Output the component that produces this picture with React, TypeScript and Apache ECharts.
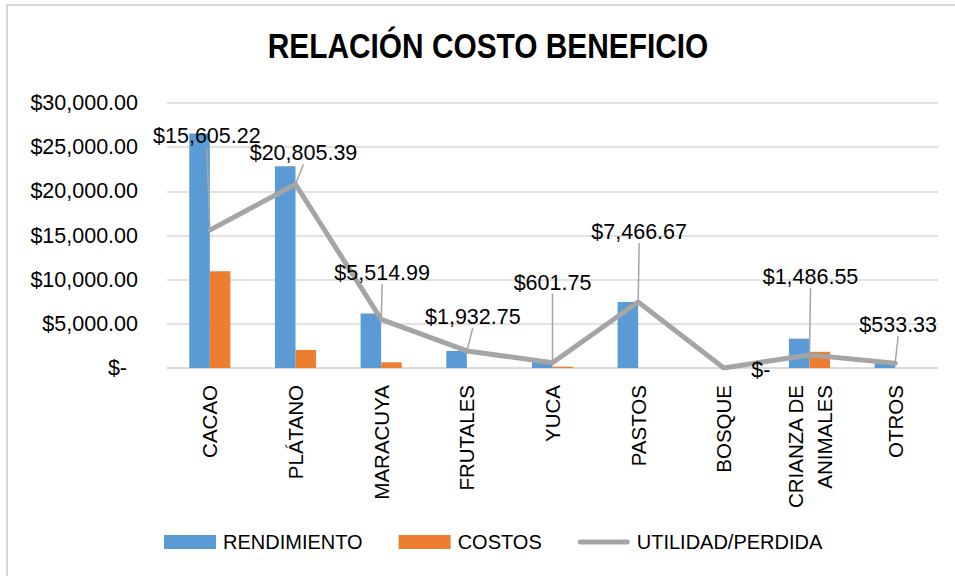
import React, { useEffect, useRef } from "react";
import * as echarts from "echarts";

const categories = ["CACAO", "PLÁTANO", "MARACUYA", "FRUTALES", "YUCA", "PASTOS", "BOSQUE", "CRIANZA DE\nANIMALES", "OTROS"];
const rendimiento = [26550, 22850, 6160, 1932.75, 750, 7466.67, 0, 3320, 533.33];
const costos = [10944.78, 2044.61, 645.01, 0, 148.25, 0, 0, 1833.45, 0];
const utilidad = [15605.22, 20805.39, 5514.99, 1932.75, 601.75, 7466.67, 0, 1486.55, 533.33];
const seriesNames = ["RENDIMIENTO", "COSTOS", "UTILIDAD/PERDIDA"];
const titleText = "RELACIÓN COSTO BENEFICIO";
const yMin = 0;
const yMax = 30000;
const yStep = 5000;

// label placement (offset of label centre from its point, px) – styling only
const labelOffsets = [[-3, -94], [8, -31], [1, -46], [6, -34], [0, -80], [1, -70], [37, 2], [1, -78], [3, -38]];
const showLeader = [true, true, true, true, true, true, false, true, true];

const money = (v: number) =>
  v === 0 ? "$-" : "$" + v.toLocaleString("en-US", { minimumFractionDigits: 2, maximumFractionDigits: 2 });

const FONT = "'Liberation Sans', Arial, sans-serif";
const LINE_ICON = "path://M0,0M52,14M2.5,4.5L49.5,4.5A2.5,2.5,0,0,1,49.5,9.5L2.5,9.5A2.5,2.5,0,0,1,2.5,4.5Z";

export default function App() {
  const ref = useRef<HTMLDivElement>(null);
  useEffect(() => {
    if (!ref.current) return;
    const chart = echarts.init(ref.current, null, { renderer: "svg" });
    chart.setOption({
      animation: false,
      backgroundColor: "#ffffff",
      graphic: [
        {
          type: "rect",
          shape: { x: 7, y: 5, width: 980, height: 600 },
          style: { fill: "none", stroke: "#D9D9D9", lineWidth: 2 },
          silent: true,
        },
        {
          type: "text",
          x: 488,
          y: 46,
          scaleX: 0.853,
          style: {
            text: titleText,
            fontFamily: FONT,
            fontWeight: "bold",
            fontSize: 35,
            fill: "#000",
            align: "center",
            verticalAlign: "middle",
          },
          silent: true,
        },
      ],
      legend: {
        left: 164,
        top: 532,
        padding: 0,
        itemWidth: 52,
        itemHeight: 14,
        itemGap: 36,
        textStyle: { fontFamily: FONT, fontSize: 20, color: "#000", padding: [0, 0, 0, 2] },
        data: [
          { name: seriesNames[0], icon: "rect" },
          { name: seriesNames[1], icon: "rect" },
          { name: seriesNames[2], icon: LINE_ICON, itemStyle: { color: "#A5A5A5" } },
        ],
      },
      grid: { left: 167, right: 17, top: 103, bottom: 208, containLabel: false },
      xAxis: {
        type: "category",
        data: categories,
        axisTick: { show: false },
        axisLine: { lineStyle: { color: "#D9D9D9", width: 1.5 } },
        axisLabel: {
          rotate: 90,
          margin: 17,
          interval: 0,
          fontFamily: FONT,
          fontSize: 20.5,
          lineHeight: 29,
          color: "#000",
        },
      },
      yAxis: {
        type: "value",
        min: yMin,
        max: yMax,
        interval: yStep,
        axisLine: { show: false },
        axisTick: { show: false },
        splitLine: { lineStyle: { color: "#D9D9D9", width: 1.5 } },
        axisLabel: {
          margin: 29,
          fontFamily: FONT,
          fontSize: 21.5,
          color: "#000",
          formatter: (v: number) => (v === 0 ? "{z|$-}" : money(v)),
          rich: { z: { fontFamily: FONT, fontSize: 21.5, color: "#000", padding: [0, 11, 0, 0] } },
        },
      },
      series: [
        {
          name: seriesNames[0],
          type: "bar",
          data: rendimiento,
          itemStyle: { color: "#5B9BD5" },
          barGap: "0%",
          barCategoryGap: "52%",
        },
        {
          name: seriesNames[1],
          type: "bar",
          data: costos,
          itemStyle: { color: "#ED7D31" },
        },
        {
          name: seriesNames[2],
          type: "line",
          data: utilidad.map((v, i) => ({ value: v, labelLine: { show: showLeader[i] } })),
          symbol: "circle",
          symbolSize: 1,
          showSymbol: true,
          itemStyle: { color: "#A5A5A5" },
          lineStyle: { color: "#A5A5A5", width: 5, join: "round", cap: "round" },
          z: 5,
          label: {
            show: true,
            position: "top",
            fontFamily: FONT,
            fontSize: 21.5,
            color: "#000",
            formatter: (p: any) => money(p.value),
          },
          labelLine: { show: true, lineStyle: { color: "#A5A5A5", width: 1.5 } },
          labelLayout: (p: any) => {
            const off = labelOffsets[p.dataIndex];
            return {
              x: p.rect.x + p.rect.width / 2 + off[0],
              y: p.rect.y + p.rect.height / 2 + off[1],
              align: "center",
              verticalAlign: "middle",
            };
          },
        },
      ],
    });
    return () => chart.dispose();
  }, []);
  return (
    <div
      ref={ref}
      style={{ position: "fixed", left: 0, top: 0, width: 955, height: 576, background: "#fff" }}
    />
  );
}
